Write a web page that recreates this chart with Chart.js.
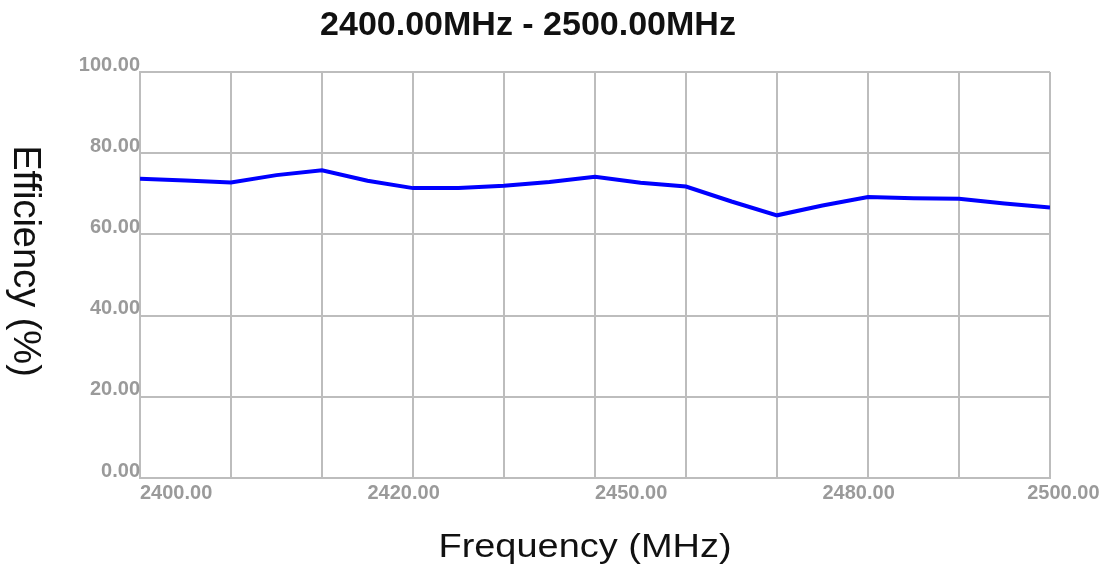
<!DOCTYPE html>
<html><head><meta charset="utf-8">
<script src="https://cdn.jsdelivr.net/npm/chart.js@4.4.1/dist/chart.umd.min.js"></script>
<style>html,body{margin:0;padding:0;background:#fff;}canvas{display:block;}</style>
</head><body>
<canvas id="c" width="1104" height="573"></canvas>
<script>
// ---- data ----
const frequencies = [2400,2405,2410,2415,2420,2425,2430,2435,2440,2445,2450,2455,2460,2465,2470,2475,2480,2485,2490,2495,2500];
const efficiency  = [73.7,73.3,72.8,74.6,75.8,73.2,71.4,71.4,72.0,72.9,74.2,72.7,71.8,68.1,64.7,67.1,69.2,68.9,68.8,67.6,66.6];
const yTickValues = [0,20,40,60,80,100];
const yTickLabels = ['0.00','20.00','40.00','60.00','80.00','100.00'];
const xTickValues = [2400,2425,2450,2475,2497.5];
const xTickLabels = ['2400.00','2420.00','2450.00','2480.00','2500.00'];
const xGridValues = [2400,2410,2420,2430,2440,2450,2460,2470,2480,2490,2500];
const chartTitle = '2400.00MHz - 2500.00MHz';
const xTitle = 'Frequency (MHz)';
const yTitle = 'Efficiency (%)';

// ---- styles ----
const GRID = '#bdbdbd';
const TICK = '#9a9a9a';
const FONT = "'Liberation Sans', Arial, sans-serif";

const titlesPlugin = {
  id: 'titles',
  afterDraw(chart) {
    const c = chart.ctx;
    c.save();
    c.fillStyle = '#111';
    c.textAlign = 'center';
    c.textBaseline = 'alphabetic';
    c.font = "bold 34px " + FONT;
    c.fillText(chartTitle, 528, 35);
    // x title
    c.save();
    c.translate(585, 557);
    c.scale(1.15, 1);
    c.font = "33px " + FONT;
    c.fillText(xTitle, 0, 0);
    c.restore();
    // y title (rotated clockwise)
    c.save();
    c.translate(14, 261);
    c.rotate(Math.PI / 2);
    c.font = "38px " + FONT;
    c.fillText(yTitle, 0, 0);
    c.restore();
    c.restore();
  }
};

new Chart(document.getElementById('c'), {
  type: 'line',
  data: {
    datasets: [{
      data: frequencies.map((f, i) => ({x: f, y: efficiency[i]})),
      borderColor: '#0000ff',
      borderWidth: 4,
      pointRadius: 0,
      tension: 0,
      fill: false
    }]
  },
  options: {
    responsive: false,
    animation: false,
    devicePixelRatio: 1,
    layout: {padding: {left: 0, right: 54, top: 72, bottom: 0}},
    plugins: {legend: {display: false}, title: {display: false}, tooltip: {enabled: false}},
    scales: {
      x: {
        type: 'linear', min: 2400, max: 2500,
        afterBuildTicks: s => {
          const lt = xTickValues.map((v, i) => ({value: v, lbl: xTickLabels[i], isGrid: false}));
          const gt = xGridValues.map(v => ({value: v, lbl: '', isGrid: true}));
          s.ticks = lt.concat(gt);
        },
        afterFit: s => { s.height = 95; },
        ticks: {
          autoSkip: false, maxRotation: 0, minRotation: 0, align: 'start', padding: 3,
          color: TICK, font: {family: FONT, size: 20, weight: 'bold'},
          callback: (v, i, ticks) => ticks[i] && ticks[i].lbl !== undefined ? ticks[i].lbl : ''
        },
        grid: {
          drawTicks: false, lineWidth: 2,
          color: ctx => (ctx.tick && ctx.tick.isGrid) ? GRID : 'rgba(0,0,0,0)'
        },
        border: {display: true, color: GRID, width: 2}
      },
      y: {
        type: 'linear', min: 0, max: 100,
        afterBuildTicks: s => { s.ticks = yTickValues.map(v => ({value: v})); },
        afterFit: s => { s.width = 140; },
        ticks: {
          padding: 0, labelOffset: -7,
          color: TICK, font: {family: FONT, size: 20, weight: 'bold'},
          callback: (v, i) => yTickLabels[i]
        },
        grid: {drawTicks: false, lineWidth: 2, color: GRID},
        border: {display: true, color: GRID, width: 2}
      }
    }
  },
  plugins: [titlesPlugin]
});
</script>
</body></html>
